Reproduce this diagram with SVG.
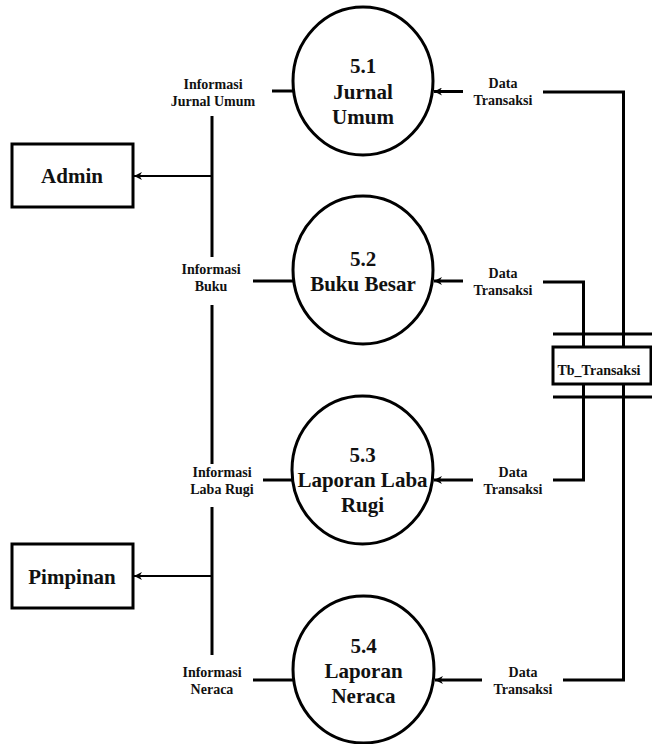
<svg xmlns="http://www.w3.org/2000/svg" width="652" height="744" viewBox="0 0 652 744">
  <style>
    .proc { fill: #fff; stroke: #000; stroke-width: 3; }
    .box { fill: #fff; stroke: #000; stroke-width: 3; }
    .ln { fill: none; stroke: #000; stroke-width: 3; }
    .thin { fill: none; stroke: #000; stroke-width: 2; }
    .big { font-family: "Liberation Serif", "Times New Roman", serif; font-weight: bold; font-size: 21px; text-anchor: middle; fill: #111; }
    .ent { font-family: "Liberation Serif", "Times New Roman", serif; font-weight: bold; font-size: 21px; text-anchor: middle; fill: #111; }
    .lbl { font-family: "Liberation Serif", "Times New Roman", serif; font-weight: bold; font-size: 14px; text-anchor: middle; fill: #111; }
  </style>
  <defs>
    <marker id="arr" viewBox="0 0 10 10" refX="10" refY="5" markerWidth="9" markerHeight="8" markerUnits="userSpaceOnUse" orient="auto">
      <path d="M0,0 L10,5 L0,10 L3,5 z" fill="#000"/>
    </marker>
  </defs>

  <!-- connectors -->
  <g id="connectors">
    <!-- left bus to external entities -->
    <line class="ln" x1="212" y1="116" x2="212" y2="257"/>
    <line class="ln" x1="212" y1="305" x2="212" y2="464"/>
    <line class="ln" x1="212" y1="507" x2="212" y2="655"/>
    <line class="thin" x1="212" y1="176" x2="134" y2="176" marker-end="url(#arr)"/>
    <line class="thin" x1="212" y1="576" x2="134" y2="576" marker-end="url(#arr)"/>
    <!-- process outputs -->
    <line class="ln" x1="272" y1="91" x2="293" y2="91"/>
    <line class="ln" x1="253" y1="281" x2="293" y2="281"/>
    <line class="ln" x1="263" y1="480" x2="292" y2="480"/>
    <line class="ln" x1="253" y1="680" x2="293" y2="680"/>
    <!-- data store inputs -->
    <line class="ln" x1="463" y1="91.5" x2="434" y2="91.5" marker-end="url(#arr)"/>
    <polyline class="ln" points="543,92 623.5,92 623.5,347"/>
    <line class="ln" x1="463" y1="281" x2="434" y2="281" marker-end="url(#arr)"/>
    <polyline class="ln" points="543,282 583.5,282 583.5,347"/>
    <line class="ln" x1="473" y1="480" x2="434" y2="480" marker-end="url(#arr)"/>
    <polyline class="ln" points="553,480 583.5,480 583.5,397"/>
    <line class="ln" x1="482" y1="680" x2="435" y2="680" marker-end="url(#arr)"/>
    <polyline class="ln" points="563,680 623.5,680 623.5,397"/>
    <!-- flow labels -->
    <text class="lbl" x="213" y="89">Informasi</text>
    <text class="lbl" x="213" y="106">Jurnal Umum</text>
    <text class="lbl" x="211" y="274">Informasi</text>
    <text class="lbl" x="211" y="291">Buku</text>
    <text class="lbl" x="222" y="477">Informasi</text>
    <text class="lbl" x="222" y="494">Laba Rugi</text>
    <text class="lbl" x="212" y="677">Informasi</text>
    <text class="lbl" x="212" y="694">Neraca</text>
    <text class="lbl" x="503" y="88">Data</text>
    <text class="lbl" x="503" y="105">Transaksi</text>
    <text class="lbl" x="503" y="278">Data</text>
    <text class="lbl" x="503" y="295">Transaksi</text>
    <text class="lbl" x="513" y="477">Data</text>
    <text class="lbl" x="513" y="494">Transaksi</text>
    <text class="lbl" x="523" y="677">Data</text>
    <text class="lbl" x="523" y="694">Transaksi</text>
  </g>

  <!-- external entities -->
  <g id="admin">
    <rect class="box" x="12" y="144" width="121" height="63"/>
    <text class="ent" x="72" y="183">Admin</text>
  </g>
  <g id="pimpinan">
    <rect class="box" x="12" y="544" width="121" height="64"/>
    <text class="ent" x="72" y="584">Pimpinan</text>
  </g>

  <!-- processes -->
  <g id="p5-1">
    <ellipse class="proc" cx="363" cy="81" rx="70" ry="74"/>
    <text class="big" x="363" y="73">5.1</text>
    <text class="big" x="363" y="99">Jurnal</text>
    <text class="big" x="363" y="124">Umum</text>
  </g>
  <g id="p5-2">
    <ellipse class="proc" cx="363" cy="270" rx="70" ry="74"/>
    <text class="big" x="363" y="266">5.2</text>
    <text class="big" x="363" y="291">Buku Besar</text>
  </g>
  <g id="p5-3">
    <ellipse class="proc" cx="362.5" cy="470" rx="70.5" ry="74"/>
    <text class="big" x="362.5" y="462">5.3</text>
    <text class="big" x="362.5" y="487">Laporan Laba</text>
    <text class="big" x="362.5" y="512">Rugi</text>
  </g>
  <g id="p5-4">
    <ellipse class="proc" cx="363.5" cy="669.5" rx="70.5" ry="73.5"/>
    <text class="big" x="363.5" y="653">5.4</text>
    <text class="big" x="363.5" y="678">Laporan</text>
    <text class="big" x="363.5" y="703">Neraca</text>
  </g>

  <!-- data store -->
  <g id="tb-transaksi">
    <line class="ln" x1="553" y1="334" x2="652" y2="334"/>
    <rect class="box" x="553" y="347" width="98" height="37"/>
    <line class="ln" x1="553" y1="397" x2="652" y2="397"/>
    <line class="ln" x1="583.5" y1="334" x2="583.5" y2="347"/>
    <line class="ln" x1="623.5" y1="334" x2="623.5" y2="347"/>
    <line class="ln" x1="583.5" y1="384" x2="583.5" y2="397"/>
    <line class="ln" x1="623.5" y1="384" x2="623.5" y2="397"/>
    <text class="lbl" x="599" y="375">Tb_Transaksi</text>
  </g>
</svg>
